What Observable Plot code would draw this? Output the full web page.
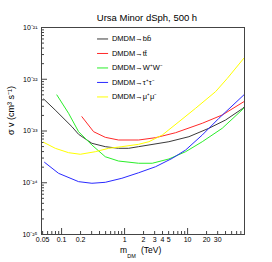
<!DOCTYPE html>
<html><head><meta charset="utf-8">
<script src="https://cdn.jsdelivr.net/npm/d3@7"></script>
<script src="https://cdn.jsdelivr.net/npm/@observablehq/plot@0.6"></script>
<style>
body{margin:0;background:#fff}
svg{font-family:"Liberation Sans",Arial,sans-serif}
</style>
</head><body><div id="c"></div>
<script>
const title = "Ursa Minor dSph, 500 h";
const yTitle = "σ v (cm³ s⁻¹)";
const channels = ["DMDM→bb̄", "DMDM→tt̄", "DMDM→W⁺W⁻", "DMDM→τ⁺τ⁻", "DMDM→μ⁺μ⁻"];
const colors = ["#3a3a3a", "#ff2a2a", "#2aee2a", "#2a2aff", "#ffff00"];

const massBB = [0.052, 0.079, 0.146, 0.186, 0.303, 0.494, 0.80, 1.16, 1.67, 5.05, 10.5, 21.8, 40, 74, 79];
const svBB   = [4.15e-23, 2.55e-23, 1.21e-23, 8.63e-24, 5.78e-24, 4.98e-24, 4.63e-24, 4.63e-24, 4.98e-24, 6.21e-24, 7.76e-24, 1.13e-23, 1.63e-23, 2.7e-23, 2.9e-23];

const massTT = [0.21, 0.322, 0.494, 0.80, 1.67, 3.1, 6.45, 17.1, 35.5, 78];
const svTT   = [1.89e-23, 9.7e-24, 7.55e-24, 6.7e-24, 6.7e-24, 7.43e-24, 9.27e-24, 1.41e-23, 2.04e-23, 3.68e-23];

const massWW = [0.0842, 0.129, 0.186, 0.303, 0.494, 0.80, 1.67, 2.75, 5.05, 9.3, 17.1, 35.5, 78];
const svWW   = [4.97e-23, 2.2e-23, 9.7e-24, 5.36e-24, 3.18e-24, 2.63e-24, 2.38e-24, 2.38e-24, 2.88e-24, 3.98e-24, 6.21e-24, 1.13e-23, 2.75e-23];

const massTau = [0.0537, 0.0896, 0.186, 0.303, 0.494, 0.906, 1.67, 3.1, 5.7, 9.3, 17.1, 31.4, 78];
const svTau   = [2.48e-24, 1.52e-24, 1.05e-24, 9.77e-25, 1.02e-24, 1.22e-24, 1.56e-24, 2.04e-24, 2.96e-24, 4.29e-24, 8.37e-24, 1.76e-23, 4.97e-23];

const massMu = [0.0518, 0.0794, 0.129, 0.198, 0.343, 0.557, 0.906, 1.67, 2.43, 3.97, 7.28, 13.4, 27.8, 42.7, 78];
const svMu   = [6.05e-24, 4.63e-24, 3.81e-24, 3.55e-24, 3.98e-24, 4.63e-24, 4.98e-24, 5.53e-24, 6.21e-24, 8.37e-24, 1.51e-23, 2.75e-23, 5.76e-23, 1.04e-22, 2.54e-22];

const xTickLabels = [0.05, 0.1, 0.2, 1, 2, 3, 4, 5, 10, 20, 30];
const yTickLabels = [1e-25, 1e-24, 1e-23, 1e-22, 1e-21];

const seriesMass = [massBB, massTT, massWW, massTau, massMu];
const seriesSv = [svBB, svTT, svWW, svTau, svMu];

const rows = [];
seriesMass.forEach((ms, i) => ms.forEach((m, j) => rows.push({m, sv: seriesSv[i][j], ch: channels[i], c: colors[i]})));

const xDomain = [0.048, 80];
const yDomain = [1e-25, 1e-21];

// tick positions
const xMinor = [], xMajor = [];
for (let e = -2; e <= 1; e++) for (let k = 1; k <= 9; k++) {
  const v = k * Math.pow(10, e);
  if (v < xDomain[0] || v > xDomain[1]) continue;
  (k === 1 ? xMajor : xMinor).push(v);
}
const yMinor = [], yMajor = [];
for (let e = -25; e <= -22; e++) for (let k = 1; k <= 9; k++) {
  const v = k * Math.pow(10, e);
  (k === 1 ? yMajor : yMinor).push(v);
}
yMajor.push(1e-21);

const supMap = {"-":"⁻","0":"⁰","1":"¹","2":"²","3":"³","4":"⁴","5":"⁵","6":"⁶","7":"⁷","8":"⁸","9":"⁹"};
const sup = s => String(s).split("").map(c => supMap[c]).join("");
const fmtY = d => "10" + sup(Math.round(Math.log10(d)));

const W = 272, H = 262, mT = 27, mL = 41, mR = 28, mB = 28;
const innerW = W - mL - mR, innerH = H - mT - mB;

// legend rows (data coordinates computed from row index)
const legend = channels.map((ch, i) => ({ch, c: colors[i], y: 6.0e-22 * Math.pow(10, -0.28 * i)}));

const axisColor = "#444";
const chart = Plot.plot({
  width: W, height: H,
  marginTop: mT, marginLeft: mL, marginRight: mR, marginBottom: mB,
  x: {type: "log", domain: xDomain, label: null, axis: null},
  y: {type: "log", domain: yDomain, label: null, axis: null},
  style: {fontFamily: "'Liberation Sans', Arial, sans-serif", fontSize: "7px", background: "#fff", color: "#000"},
  marks: [
    Plot.ruleX(xMinor, {x: d => d, insetTop: innerH - 3, stroke: axisColor}),
    Plot.ruleX(xMajor, {x: d => d, insetTop: innerH - 6, stroke: axisColor}),
    Plot.ruleY(yMinor, {y: d => d, insetRight: innerW - 3, stroke: axisColor}),
    Plot.ruleY(yMajor, {y: d => d, insetRight: innerW - 6, stroke: axisColor}),
    Plot.text(xTickLabels, {x: d => d, text: d => String(d), frameAnchor: "bottom", lineAnchor: "top", dy: 3, fontSize: 7, fill: "#000"}),
    Plot.text(yTickLabels, {y: d => d, text: fmtY, frameAnchor: "left", textAnchor: "end", dx: -4, fontSize: 7, fill: "#000"}),
    Plot.line(rows, {x: "m", y: "sv", z: "ch", stroke: "c", strokeWidth: 1}),
    Plot.frame({stroke: axisColor}),
    Plot.ruleY(legend, {y: "y", x1: 0.372, x2: 0.557, stroke: "c", strokeWidth: 1}),
    Plot.text(legend, {y: "y", x: 0.63, text: "ch", textAnchor: "start", fontSize: 7.5, fill: "#000"}),
    Plot.text([title], {frameAnchor: "top", dx: 4, dy: -13, fontSize: 9.5, fill: "#000"}),
    Plot.text([yTitle], {frameAnchor: "left", rotate: -90, dx: -30, dy: 4, fontSize: 9, fill: "#000"}),
    Plot.text(["m"], {frameAnchor: "bottom", dx: -19.5, dy: 18, fontSize: 8.5, fill: "#000"}),
    Plot.text(["DM"], {frameAnchor: "bottom", dx: -11.5, dy: 23, fontSize: 5.5, fill: "#000"}),
    Plot.text(["(TeV)"], {frameAnchor: "bottom", dx: -2, dy: 18, fontSize: 8.5, textAnchor: "start", fill: "#000"})
  ]
});
document.getElementById("c").appendChild(chart);
</script>
</body></html>
